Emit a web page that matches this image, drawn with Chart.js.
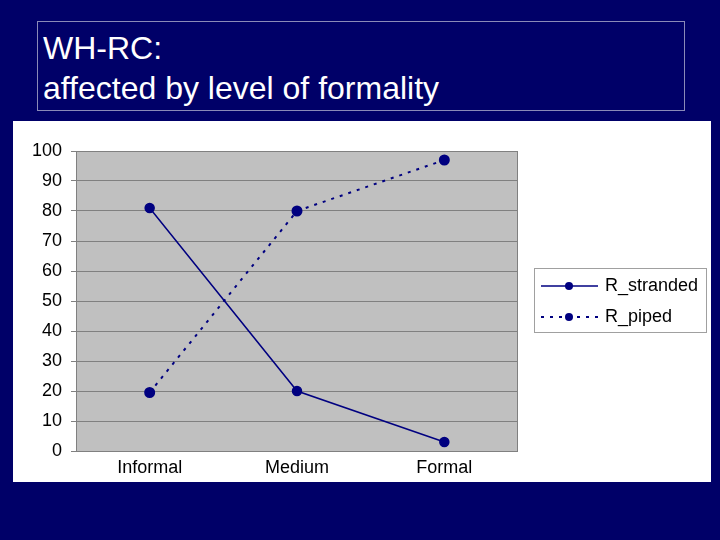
<!DOCTYPE html>
<html>
<head>
<meta charset="utf-8">
<script src="https://cdn.jsdelivr.net/npm/chart.js@4/dist/chart.umd.min.js"></script>
<style>
  html, body { margin: 0; padding: 0; }
  body { width: 720px; height: 540px; background: #000068; position: relative; overflow: hidden;
         font-family: "Liberation Sans", Arial, sans-serif; }
  #titulo { position: absolute; left: 37px; top: 21px; width: 646px; height: 88px;
            border: 1px solid #8a8ab8; color: #fff; font-size: 32px; line-height: 40px;
            box-sizing: content-box; }
  #titulo div { padding-left: 5px; }
  #panel { position: absolute; left: 13px; top: 121px; width: 698px; height: 361px; background: #fff; }
</style>
</head>
<body>
<div id="titulo"><div style="margin-top:6px">WH-RC:</div><div>affected by level of formality</div></div>
<div id="panel"><canvas id="grafico" width="698" height="361"></canvas></div>
<script>
// niveles de formalidad y porcentajes
const niveles = ["Informal", "Medium", "Formal"];
const stranded = [81, 20, 3];
const piped = [19.5, 80, 97];
const marcasY = [0, 10, 20, 30, 40, 50, 60, 70, 80, 90, 100];

const azul = "#000080";
const fuente = "'Liberation Sans', Arial, sans-serif";

// fondo gris y borde del área de trazado
const fondoPlot = {
  id: "fondoPlot",
  beforeDraw(chart) {
    const { ctx, chartArea: a } = chart;
    ctx.save();
    ctx.fillStyle = "#c0c0c0";
    ctx.fillRect(a.left, a.top, a.right - a.left, a.bottom - a.top);
    ctx.restore();
  },
  afterDatasetsDraw(chart) {
    const { ctx, chartArea: a } = chart;
    ctx.save();
    ctx.strokeStyle = "#808080";
    ctx.lineWidth = 1;
    ctx.strokeRect(a.left + 0.5, a.top + 0.5, a.right - a.left - 1, a.bottom - a.top);
    ctx.restore();
  },
};

// leyenda con recuadro, línea y marcador en el centro
const leyenda = {
  id: "leyenda",
  afterDraw(chart) {
    const { ctx } = chart;
    const x0 = 521, y0 = 147, w = 172, h = 64;
    ctx.save();
    ctx.fillStyle = "#fff";
    ctx.strokeStyle = "#a0a0a0";
    ctx.lineWidth = 1;
    ctx.fillRect(x0, y0, w, h);
    ctx.strokeRect(x0 + 0.5, y0 + 0.5, w, h);
    chart.data.datasets.forEach((ds, i) => {
      const y = y0 + 18 + i * 31;
      ctx.strokeStyle = ds.borderColor;
      ctx.lineWidth = ds.borderWidth;
      ctx.setLineDash(ds.borderDash || []);
      ctx.beginPath();
      ctx.moveTo(x0 + 7, y);
      ctx.lineTo(x0 + 64, y);
      ctx.stroke();
      ctx.setLineDash([]);
      ctx.fillStyle = ds.pointBackgroundColor;
      ctx.beginPath();
      ctx.arc(x0 + 35, y, 4, 0, Math.PI * 2);
      ctx.fill();
      ctx.fillStyle = "#000";
      ctx.font = "18px " + fuente;
      ctx.textBaseline = "middle";
      ctx.fillText(ds.label, x0 + 71, y);
    });
    ctx.restore();
  },
};

new Chart(document.getElementById("grafico"), {
  type: "line",
  data: {
    labels: niveles,
    datasets: [
      {
        label: "R_stranded",
        data: stranded,
        borderColor: azul,
        borderWidth: 1.5,
        pointBackgroundColor: azul,
        pointBorderColor: azul,
        pointRadius: 4.5,
        tension: 0,
      },
      {
        label: "R_piped",
        data: piped,
        borderColor: azul,
        borderWidth: 2,
        borderDash: [3, 6],
        pointBackgroundColor: azul,
        pointBorderColor: azul,
        pointRadius: 4.5,
        tension: 0,
      },
    ],
  },
  options: {
    responsive: false,
    animation: false,
    layout: { padding: { left: 0, top: 30, right: 193, bottom: 0 } },
    plugins: { legend: { display: false }, tooltip: { enabled: false } },
    scales: {
      x: {
        offset: true,
        grid: { display: false },
        border: { display: false },
        ticks: { color: "#000", font: { family: fuente, size: 18 }, padding: -2 },
        afterFit(s) { s.height = 31; },
      },
      y: {
        min: 0,
        max: 100,
        afterBuildTicks(s) { s.ticks = marcasY.map((v) => ({ value: v })); },
        grid: { color: "#808080", lineWidth: 1, tickLength: 5, drawTicks: true },
        border: { display: false },
        ticks: { color: "#000", font: { family: fuente, size: 18 }, padding: 9 },
        afterFit(s) { s.width = 63; },
      },
    },
  },
  plugins: [fondoPlot, leyenda],
});
</script>
</body>
</html>
